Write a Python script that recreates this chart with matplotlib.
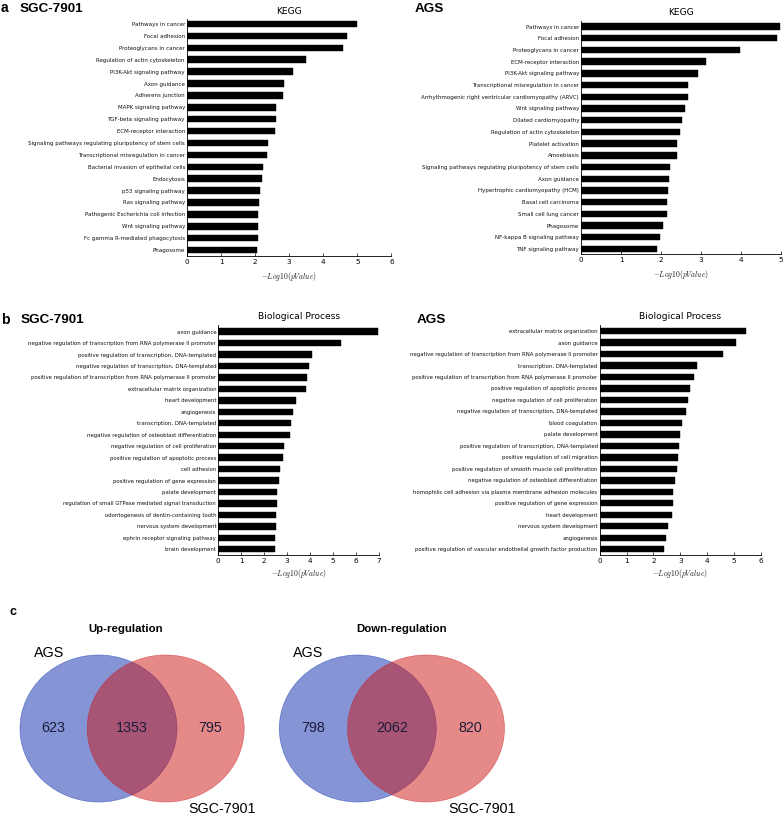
import matplotlib
matplotlib.use("Agg")
import matplotlib.pyplot as plt
from matplotlib.patches import Ellipse

plt.rcParams['mathtext.fontset'] = 'cm'

# ---------------- data ----------------
kegg_sgc_terms = [
    "Pathways in cancer", "Focal adhesion", "Proteoglycans in cancer",
    "Regulation of actin cytoskeleton", "PI3K-Akt signaling pathway", "Axon guidance",
    "Adherens junction", "MAPK signaling pathway", "TGF-beta signaling pathway",
    "ECM-receptor interaction", "Signaling pathways regulating pluripotency of stem cells",
    "Transcriptional misregulation in cancer", "Bacterial invasion of epithelial cells",
    "Endocytosis", "p53 signaling pathway", "Ras signaling pathway",
    "Pathogenic Escherichia coli infection", "Wnt signaling pathway",
    "Fc gamma R-mediated phagocytosis", "Phagosome",
]
kegg_sgc_values = [5.00, 4.69, 4.57, 3.49, 3.10, 2.86, 2.83, 2.62, 2.61, 2.59,
                   2.39, 2.36, 2.24, 2.21, 2.14, 2.12, 2.09, 2.09, 2.07, 2.05]

kegg_ags_terms = [
    "Pathways in cancer", "Focal adhesion", "Proteoglycans in cancer",
    "ECM-receptor interaction", "PI3K-Akt signaling pathway",
    "Transcriptional misregulation in cancer",
    "Arrhythmogenic right ventricular cardiomyopathy (ARVC)", "Wnt signaling pathway",
    "Dilated cardiomyopathy", "Regulation of actin cytoskeleton", "Platelet activation",
    "Amoebiasis", "Signaling pathways regulating pluripotency of stem cells",
    "Axon guidance", "Hypertrophic cardiomyopathy (HCM)", "Basal cell carcinoma",
    "Small cell lung cancer", "Phagosome", "NF-kappa B signaling pathway",
    "TNF signaling pathway",
]
kegg_ags_values = [4.98, 4.90, 3.98, 3.11, 2.92, 2.68, 2.66, 2.60, 2.52, 2.48,
                   2.40, 2.39, 2.22, 2.20, 2.17, 2.15, 2.14, 2.05, 1.97, 1.89]

bp_sgc_terms = [
    "axon guidance",
    "negative regulation of transcription from RNA polymerase II promoter",
    "positive regulation of transcription, DNA-templated",
    "negative regulation of transcription, DNA-templated",
    "positive regulation of transcription from RNA polymerase II promoter",
    "extracellular matrix organization", "heart development", "angiogenesis",
    "transcription, DNA-templated",
    "negative regulation of osteoblast differentiation",
    "negative regulation of cell proliferation",
    "positive regulation of apoptotic process", "cell adhesion",
    "positive regulation of gene expression", "palate development",
    "regulation of small GTPase mediated signal transduction",
    "odontogenesis of dentin-containing tooth", "nervous system development",
    "ephrin receptor signaling pathway", "brain development",
]
bp_sgc_values = [6.97, 5.36, 4.06, 3.96, 3.88, 3.82, 3.38, 3.27, 3.16, 3.11,
                 2.87, 2.84, 2.69, 2.66, 2.55, 2.54, 2.53, 2.51, 2.47, 2.47]

bp_ags_terms = [
    "extracellular matrix organization", "axon guidance",
    "negative regulation of transcription from RNA polymerase II promoter",
    "transcription, DNA-templated",
    "positive regulation of transcription from RNA polymerase II promoter",
    "positive regulation of apoptotic process",
    "negative regulation of cell proliferation",
    "negative regulation of transcription, DNA-templated", "blood coagulation",
    "palate development", "positive regulation of transcription, DNA-templated",
    "positive regulation of cell migration",
    "positive regulation of smooth muscle cell proliferation",
    "negative regulation of osteoblast differentiation",
    "homophilic cell adhesion via plasma membrane adhesion molecules",
    "positive regulation of gene expression", "heart development",
    "nervous system development", "angiogenesis",
    "positive regulation of vascular endothelial growth factor production",
]
bp_ags_values = [5.46, 5.08, 4.57, 3.63, 3.49, 3.37, 3.28, 3.22, 3.05, 2.99,
                 2.96, 2.91, 2.87, 2.81, 2.73, 2.71, 2.70, 2.53, 2.45, 2.39]

venn_titles = ["Up-regulation", "Down-regulation"]
venn_set_labels = ["AGS", "SGC-7901"]
venn_up_counts = [623, 1353, 795]
venn_down_counts = [798, 2062, 820]

# ---------------- figure ----------------
W, H = 784, 816
fig = plt.figure(figsize=(W / 100, H / 100), dpi=100)


def frac_rect(left, top, right, bottom):
    return [left / W, 1 - bottom / H, (right - left) / W, (bottom - top) / H]


def bar_panel(rect, terms, values, xmax, title, ylim, xlabpad, ylabsize):
    ax = fig.add_axes(rect)
    ypos = list(range(len(terms)))
    ax.barh(ypos, values, height=0.55, color='black', edgecolor='black', linewidth=0.3)
    ax.set_yticks(ypos)
    ax.set_yticklabels(terms, fontsize=ylabsize, family='DejaVu Sans', color='#111111')
    ax.set_ylim(*ylim)
    ax.set_xlim(0, xmax)
    ax.set_xticks(range(0, xmax + 1))
    ax.tick_params(axis='x', direction='in', length=2, width=0.5, labelsize=5.2, pad=2)
    ax.tick_params(axis='y', length=0, pad=1.5)
    for s in ['top', 'right']:
        ax.spines[s].set_visible(False)
    for s in ['left', 'bottom']:
        ax.spines[s].set_linewidth(0.6)
    ax.set_title(title, fontsize=6.6, pad=4)
    ax.set_xlabel(r'$-Log10(pValue)$', fontsize=5.5, labelpad=xlabpad, color='#222222')
    return ax


bar_panel(frac_rect(187, 19.3, 391.4, 256), kegg_sgc_terms, kegg_sgc_values, 6,
          "KEGG", (19.5, -0.4), 4, 4.0)
bar_panel(frac_rect(581.3, 20.7, 781, 254), kegg_ags_terms, kegg_ags_values, 5,
          "KEGG", (19.43, -0.5), 4, 4.0)
bar_panel(frac_rect(218.3, 325, 379, 555), bp_sgc_terms, bp_sgc_values, 7,
          "Biological Process", (19.5, -0.58), 2, 3.9)
bar_panel(frac_rect(599.7, 325, 761, 555), bp_ags_terms, bp_ags_values, 6,
          "Biological Process", (19.5, -0.53), 2, 3.9)

# panel headings
hfont = dict(family='Liberation Sans', weight='bold', va='center', ha='left')
fig.text(1 / W, 1 - 8.5 / H, "a", fontsize=10, **hfont)
fig.text(20 / W, 1 - 8.5 / H, "SGC-7901", fontsize=9.7, **hfont)
fig.text(415 / W, 1 - 8.5 / H, "AGS", fontsize=9.7, **hfont)
fig.text(1 / W, 1 - 320 / H, "b", fontsize=10, **hfont)
fig.text(20.5 / W, 1 - 320 / H, "SGC-7901", fontsize=9.7, **hfont)
fig.text(417 / W, 1 - 320 / H, "AGS", fontsize=9.7, **hfont)
fig.text(9 / W, 1 - 612 / H, "c", fontsize=9, **hfont)

# ---------------- Venn diagrams ----------------
vax = fig.add_axes([0, 0, 1, 1])
vax.set_xlim(0, W)
vax.set_ylim(H, 0)
vax.axis('off')
vax.patch.set_alpha(0)

blue = (0.043, 0.169, 0.678)
red = (0.804, 0.082, 0.082)
venns = [
    (venn_titles[0], venn_up_counts, 98.5, 165.7, 126),
    (venn_titles[1], venn_down_counts, 357.8, 426.0, 401.5),
]
cy = 728.5
ew, eh = 157, 147
nfont = dict(family='Liberation Sans', fontsize=10.3, ha='center', va='center')
for title, counts, bx, rx, tx in venns:
    vax.add_patch(Ellipse((bx, cy), ew, eh, facecolor=blue, alpha=0.5,
                          edgecolor=blue, linewidth=0.5))
    vax.add_patch(Ellipse((rx, cy), ew, eh, facecolor=red, alpha=0.5,
                          edgecolor=red, linewidth=0.5))
    vax.text(tx, 629, title, family='Liberation Sans', weight='bold', fontsize=8.2,
             ha='center', va='center')
    left_c = (bx - ew / 2 + rx - ew / 2) / 2
    mid_c = (rx - ew / 2 + bx + ew / 2) / 2
    right_c = (bx + ew / 2 + rx + ew / 2) / 2
    vax.text(left_c, cy, str(counts[0]), color='#1c1c3a', **nfont)
    vax.text(mid_c, cy, str(counts[1]), color='#1c1c3a', **nfont)
    vax.text(right_c, cy, str(counts[2]), color='#1c1c3a', **nfont)
    vax.text(bx - 49.5, 653, venn_set_labels[0], **nfont)
    vax.text(rx + 56.5, 809, venn_set_labels[1], **nfont)

fig.savefig("out.png", dpi=100)
